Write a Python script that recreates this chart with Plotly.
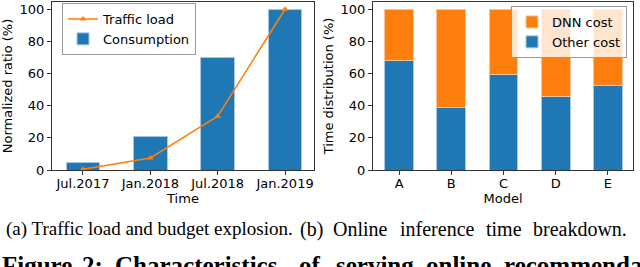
import plotly.graph_objects as go

# Left chart data
times = ["Jul.2017", "Jan.2018", "Jul.2018", "Jan.2019"]
consumption = [4.5, 21, 70, 100]
traffic_load = [0.5, 7.5, 33.5, 100]

# Right chart data
models = ["A", "B", "C", "D", "E"]
other_cost = [68, 39, 59.5, 46, 52.5]
dnn_cost = [100 - v for v in other_cost]

# Captions
caption_a = "(a) Traffic load and budget explosion."
caption_b_words = ["(b)", "Online", "inference", "time", "breakdown."]
caption_b_x = [298, 331, 398, 484, 531]
figure_words = ["Figure", "2:", "Characteristics", "of", "serving", "online", "recommenda-"]
figure_word_x = [0, 80, 113, 297, 334, 424, 502]

BLUE = "#1f77b4"
ORANGE = "#ff7f0e"
SANS = "DejaVu Sans"
SERIF = "Liberation Serif"
FS = 13

fig = go.Figure()

fig.add_trace(go.Bar(x=times, y=consumption, name="Consumption", marker_color=BLUE,
                     marker_line=dict(color="#a9c8e0", width=1), width=0.5,
                     xaxis="x", yaxis="y", legend="legend"))
fig.add_trace(go.Scatter(x=times, y=traffic_load, name="Traffic load", mode="lines+markers",
                         line=dict(color=ORANGE, width=1.5),
                         marker=dict(symbol="triangle-up", size=6, color=ORANGE),
                         xaxis="x", yaxis="y", legend="legend"))

fig.add_trace(go.Bar(x=models, y=other_cost, name="Other cost", marker_color=BLUE,
                     marker_line=dict(color="#a9c8e0", width=1), width=0.55,
                     xaxis="x2", yaxis="y2", legend="legend2"))
fig.add_trace(go.Bar(x=models, y=dnn_cost, name="DNN cost", marker_color=ORANGE,
                     marker_line=dict(color="#f6c49c", width=1), width=0.55,
                     xaxis="x2", yaxis="y2", legend="legend2"))

axis_common = dict(showline=True, linecolor="#333", linewidth=1, mirror=True,
                   ticks="outside", ticklen=4, tickcolor="#333",
                   tickfont=dict(family=SANS, size=FS, color="black"),
                   showgrid=False, zeroline=False, automargin=False)

ydom = [1 - 170 / 267, 1 - 2 / 267]
title_font = dict(family=SANS, size=FS, color="black")

annotations = [
    dict(text=caption_a, x=4 / 640, y=1 - 229 / 267,
         xref="paper", yref="paper", xanchor="left", yanchor="middle", showarrow=False,
         font=dict(family=SERIF, size=19, color="black")),
]
for w, px in zip(caption_b_words, caption_b_x):
    annotations.append(dict(text=w, x=px / 640, y=1 - 229 / 267,
                            xref="paper", yref="paper", xanchor="left", yanchor="middle",
                            showarrow=False, font=dict(family=SERIF, size=20, color="black")))
for w, px in zip(figure_words, figure_word_x):
    annotations.append(dict(text="<b>" + w + "</b>", x=px / 640, y=1 - 250 / 267,
                            xref="paper", yref="paper", xanchor="left", yanchor="top",
                            showarrow=False, font=dict(family=SERIF, size=25, color="black")))

fig.update_layout(
    width=640, height=267,
    margin=dict(l=0, r=0, t=0, b=0),
    plot_bgcolor="white", paper_bgcolor="white",
    barmode="stack",
    showlegend=True,
    xaxis=dict(domain=[52 / 640, 314 / 640], range=[-0.46, 3.43], type="category",
               title=dict(text="Time", font=title_font, standoff=0), ticklabelstandoff=-3,
               anchor="y", **axis_common),
    yaxis=dict(domain=ydom, range=[0, 104.5], tickvals=[0, 20, 40, 60, 80, 100],
               title=dict(text="Normalized ratio (%)", font=title_font, standoff=4),
               anchor="x", **axis_common),
    xaxis2=dict(domain=[373 / 640, 633 / 640], range=[-0.5, 4.48], type="category",
                title=dict(text="Model", font=title_font, standoff=0), ticklabelstandoff=-3,
                anchor="y2", **axis_common),
    yaxis2=dict(domain=ydom, range=[0, 104.5], tickvals=[0, 20, 40, 60, 80, 100],
                title=dict(text="Time distribution (%)", font=title_font, standoff=4),
                anchor="x2", **axis_common),
    legend=dict(x=62 / 640, y=1 - 3 / 267, xanchor="left", yanchor="top",
                bgcolor="rgba(255,255,255,0.8)", bordercolor="#999", borderwidth=1,
                font=dict(family=SANS, size=FS, color="black"), traceorder="reversed",
                tracegroupgap=0, itemwidth=30),
    legend2=dict(x=627 / 640, y=1 - 6 / 267, xanchor="right", yanchor="top",
                 bgcolor="rgba(255,255,255,0.8)", bordercolor="#999", borderwidth=1,
                 font=dict(family=SANS, size=FS, color="black"), traceorder="reversed",
                 tracegroupgap=0, itemwidth=30),
    annotations=annotations,
)

fig.write_html("out.html", config={"displayModeBar": False},
               post_script="document.body.style.margin='0';document.body.style.overflow='hidden';")
